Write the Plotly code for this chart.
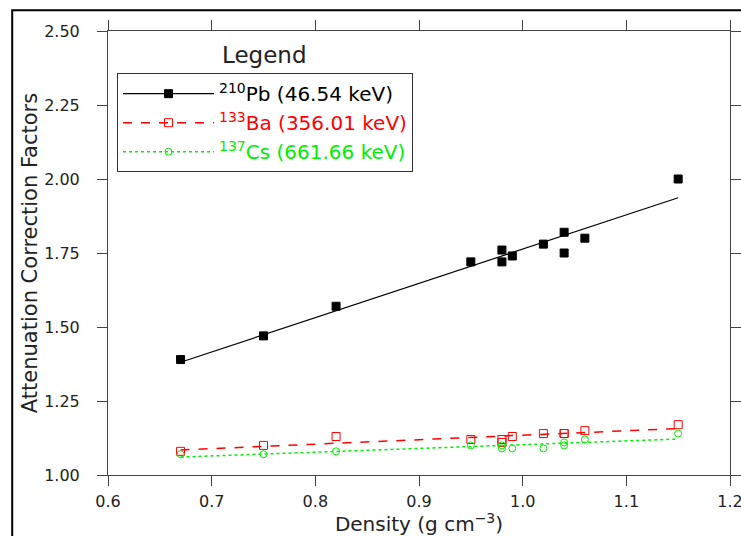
import numpy as np
import plotly.graph_objects as go

# ---- data ----
density = [0.67, 0.75, 0.82, 0.95, 0.98, 0.98, 0.99, 1.02, 1.04, 1.04, 1.06, 1.15]
pb210 = [1.39, 1.47, 1.57, 1.72, 1.76, 1.72, 1.74, 1.78, 1.82, 1.75, 1.80, 2.00]
ba133 = [1.08, 1.10, 1.13, 1.12, 1.12, 1.11, 1.13, 1.14, 1.14, 1.14, 1.15, 1.17]
cs137 = [1.07, 1.07, 1.08, 1.10, 1.09, 1.10, 1.09, 1.09, 1.10, 1.11, 1.12, 1.14]

names = ["<sup>210</sup>Pb (46.54 keV)", "<sup>133</sup>Ba (356.01 keV)", "<sup>137</sup>Cs (661.66 keV)"]
x_ticks = [0.6, 0.7, 0.8, 0.9, 1.0, 1.1, 1.2]
x_ticklabels = ["0.6", "0.7", "0.8", "0.9", "1.0", "1.1", "1.2"]
y_ticks = [1.00, 1.25, 1.50, 1.75, 2.00, 2.25, 2.50]
y_ticklabels = ["1.00", "1.25", "1.50", "1.75", "2.00", "2.25", "2.50"]

FONT = "DejaVu Sans"
series = [
    (pb210, names[0], "#000000", "square", "solid", 1.2, 8),
    (ba133, names[1], "#ff0000", "square-open", "dash", 1.5, 8),
    (cs137, names[2], "#00ee00", "circle-open", "dot", 1.5, 7),
]

fig = go.Figure()
xd = np.array(density)
xfit = np.array([xd.min(), xd.max()])
for vals, name, col, sym, dash, lw, ms in series:
    k, b = np.polyfit(xd, np.array(vals), 1)
    fig.add_trace(go.Scatter(x=xfit, y=k * xfit + b, mode="lines",
                             line=dict(color=col, width=lw, dash=dash),
                             showlegend=False, hoverinfo="skip"))
    fig.add_trace(go.Scatter(x=density, y=vals, mode="markers",
                             marker=dict(symbol=sym, size=ms, color=col,
                                         line=dict(color=col, width=1)),
                             showlegend=False))
    # legend entry
    fig.add_trace(go.Scatter(x=[None], y=[None], mode="lines+markers",
                             name=f'<span style="color:{col}">{name}</span>',
                             line=dict(color=col, width=lw, dash=dash),
                             marker=dict(symbol=sym, size=ms, color=col,
                                         line=dict(color=col, width=1))))

axis_common = dict(
    showline=True, linecolor="#444444", linewidth=1, mirror="ticks",
    ticks="outside", ticklen=10, tickcolor="#444444", tickwidth=1,
    showgrid=False, zeroline=False, automargin=False,
    ticklabeloverflow="allow",
    tickfont=dict(family=FONT, size=16, color="#222222"),
)

fig.update_layout(
    width=741, height=536,
    margin=dict(l=108, r=11, t=31, b=61, autoexpand=False),
    paper_bgcolor="white", plot_bgcolor="white",
    font=dict(family=FONT, color="#222222"),
    xaxis=dict(range=[0.6, 1.2], tickvals=x_ticks, ticktext=x_ticklabels,
               ticklabelstandoff=2,
               title=dict(text="Density (g cm<sup>\u22123</sup>)",
                          font=dict(family=FONT, size=20, color="#222222"), standoff=2),
               **axis_common),
    yaxis=dict(range=[1.0, 2.5], tickvals=y_ticks, ticktext=y_ticklabels,
               ticklabelstandoff=14,
               title=dict(text="Attenuation Correction Factors",
                          font=dict(family=FONT, size=21, color="#222222"), standoff=0),
               **axis_common),
    legend=dict(x=0.0145, y=0.905, xanchor="left", yanchor="top",
                bordercolor="#333333", borderwidth=1, bgcolor="white",
                font=dict(family=FONT, size=20, color="#222222"),
                itemwidth=91, tracegroupgap=0),
    annotations=[dict(text="Legend", xref="paper", yref="paper", x=0.252, y=0.946,
                      xanchor="center", yanchor="middle", showarrow=False,
                      font=dict(family=FONT, size=23, color="#222222"))],
    shapes=[dict(type="rect", xref="paper", yref="paper",
                 x0=-0.154, x1=1.2, y0=-0.3, y1=1.047,
                 line=dict(color="black", width=2), layer="below")],
)

fig.write_html("out.html")
